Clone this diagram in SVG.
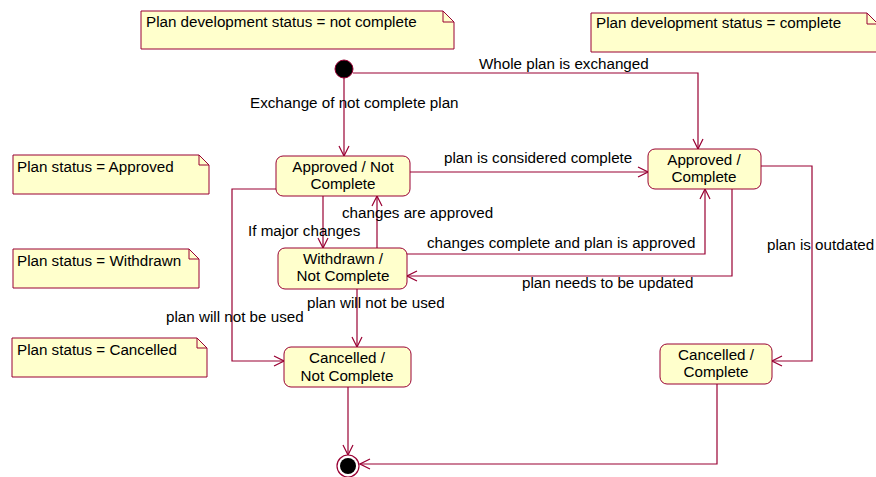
<svg xmlns="http://www.w3.org/2000/svg" width="876" height="477" viewBox="0 0 876 477">
<defs>
<marker id="arr" viewBox="0 0 12 12" refX="11" refY="6" markerWidth="12" markerHeight="12" markerUnits="userSpaceOnUse" orient="auto">
<path d="M1,1 L11,6 L1,11" fill="none" stroke="#990033" stroke-width="1.2"/>
</marker>
</defs>
<style>
text{font-family:"Liberation Sans",Arial,sans-serif;font-size:15.2px;fill:#000}
.st{fill:#FFFFCC;stroke:#990033;stroke-width:1}
.nt{fill:#FFFFCC;stroke:#990033;stroke-width:1}
.f{fill:none;stroke:#990033;stroke-width:1}
.c{fill:none;stroke:#990033;stroke-width:1.2}
.a{marker-end:url(#arr)}
.m{text-anchor:middle}
</style>
<rect width="876" height="477" fill="#fff"/>
<g id="note-nc"><path class="nt" d="M141,11 H443 L454,22 V49 H141 Z"/><path class="f" d="M443,11 V22 H454"/><text x="146" y="27">Plan development status = not complete</text></g>
<g id="note-c"><path class="nt" d="M591,13 H867 L878,24 V52 H591 Z"/><path class="f" d="M867,13 V24 H878"/><text x="596" y="28">Plan development status = complete</text></g>
<g id="note-approved"><path class="nt" d="M13,155 H199 L209,165 V194 H13 Z"/><path class="f" d="M199,155 V165 H209"/><text x="17" y="172">Plan status = Approved</text></g>
<g id="note-withdrawn"><path class="nt" d="M13,249 H189 L199,259 V288 H13 Z"/><path class="f" d="M189,249 V259 H199"/><text x="17" y="266">Plan status = Withdrawn</text></g>
<g id="note-cancelled"><path class="nt" d="M12,338 H197 L207,348 V377 H12 Z"/><path class="f" d="M197,338 V348 H207"/><text x="17" y="355">Plan status = Cancelled</text></g>
<g id="connectors">
<path class="c a" d="M344,78 V156"/>
<path class="c a" d="M353,73 H698 V149"/>
<path class="c a" d="M410,172 H648"/>
<path class="c a" d="M323,196 V248"/>
<path class="c a" d="M377,248 V196"/>
<path class="c a" d="M276,189 H232 V361 H284"/>
<path class="c a" d="M357,289 V347"/>
<path class="c a" d="M407,254 H705 V189"/>
<path class="c a" d="M732,189 V276 H407"/>
<path class="c a" d="M761,166 H812 V361 H772"/>
<path class="c a" d="M348,387 V455"/>
<path class="c a" d="M717,384 V464 H360"/>
</g>
<g id="labels">
<text x="479" y="69">Whole plan is exchanged</text>
<text x="250" y="108">Exchange of not complete plan</text>
<text x="444" y="163">plan is considered complete</text>
<text x="342" y="218">changes are approved</text>
<text x="248" y="236">If major changes</text>
<text x="427" y="248">changes complete and plan is approved</text>
<text x="522" y="288">plan needs to be updated</text>
<text x="307" y="308">plan will not be used</text>
<text x="166" y="322">plan will not be used</text>
<text x="767" y="250">plan is outdated</text>
</g>
<g id="initial"><circle cx="344" cy="69" r="9" fill="#000" stroke="#990033" stroke-width="1"/></g>
<g id="approved-nc"><rect class="st" x="276" y="156" width="134" height="40" rx="7"/><text class="m" x="343" y="172">Approved / Not</text><text class="m" x="343" y="189">Complete</text></g>
<g id="approved-c"><rect class="st" x="648" y="149" width="113" height="40" rx="7"/><text class="m" x="704" y="165">Approved /</text><text class="m" x="704" y="182">Complete</text></g>
<g id="withdrawn-nc"><rect class="st" x="278" y="248" width="129" height="41" rx="7"/><text class="m" x="343" y="264">Withdrawn /</text><text class="m" x="343" y="281">Not Complete</text></g>
<g id="cancelled-nc"><rect class="st" x="284" y="347" width="127" height="40" rx="7"/><text class="m" x="347" y="363">Cancelled /</text><text class="m" x="347" y="381">Not Complete</text></g>
<g id="cancelled-c"><rect class="st" x="660" y="344" width="112" height="40" rx="7"/><text class="m" x="716" y="360">Cancelled /</text><text class="m" x="716" y="377">Complete</text></g>
<g id="final"><circle cx="348" cy="466" r="11" fill="#fff" stroke="#990033" stroke-width="1.2"/><circle cx="348" cy="466" r="8" fill="#000"/></g>
</svg>
